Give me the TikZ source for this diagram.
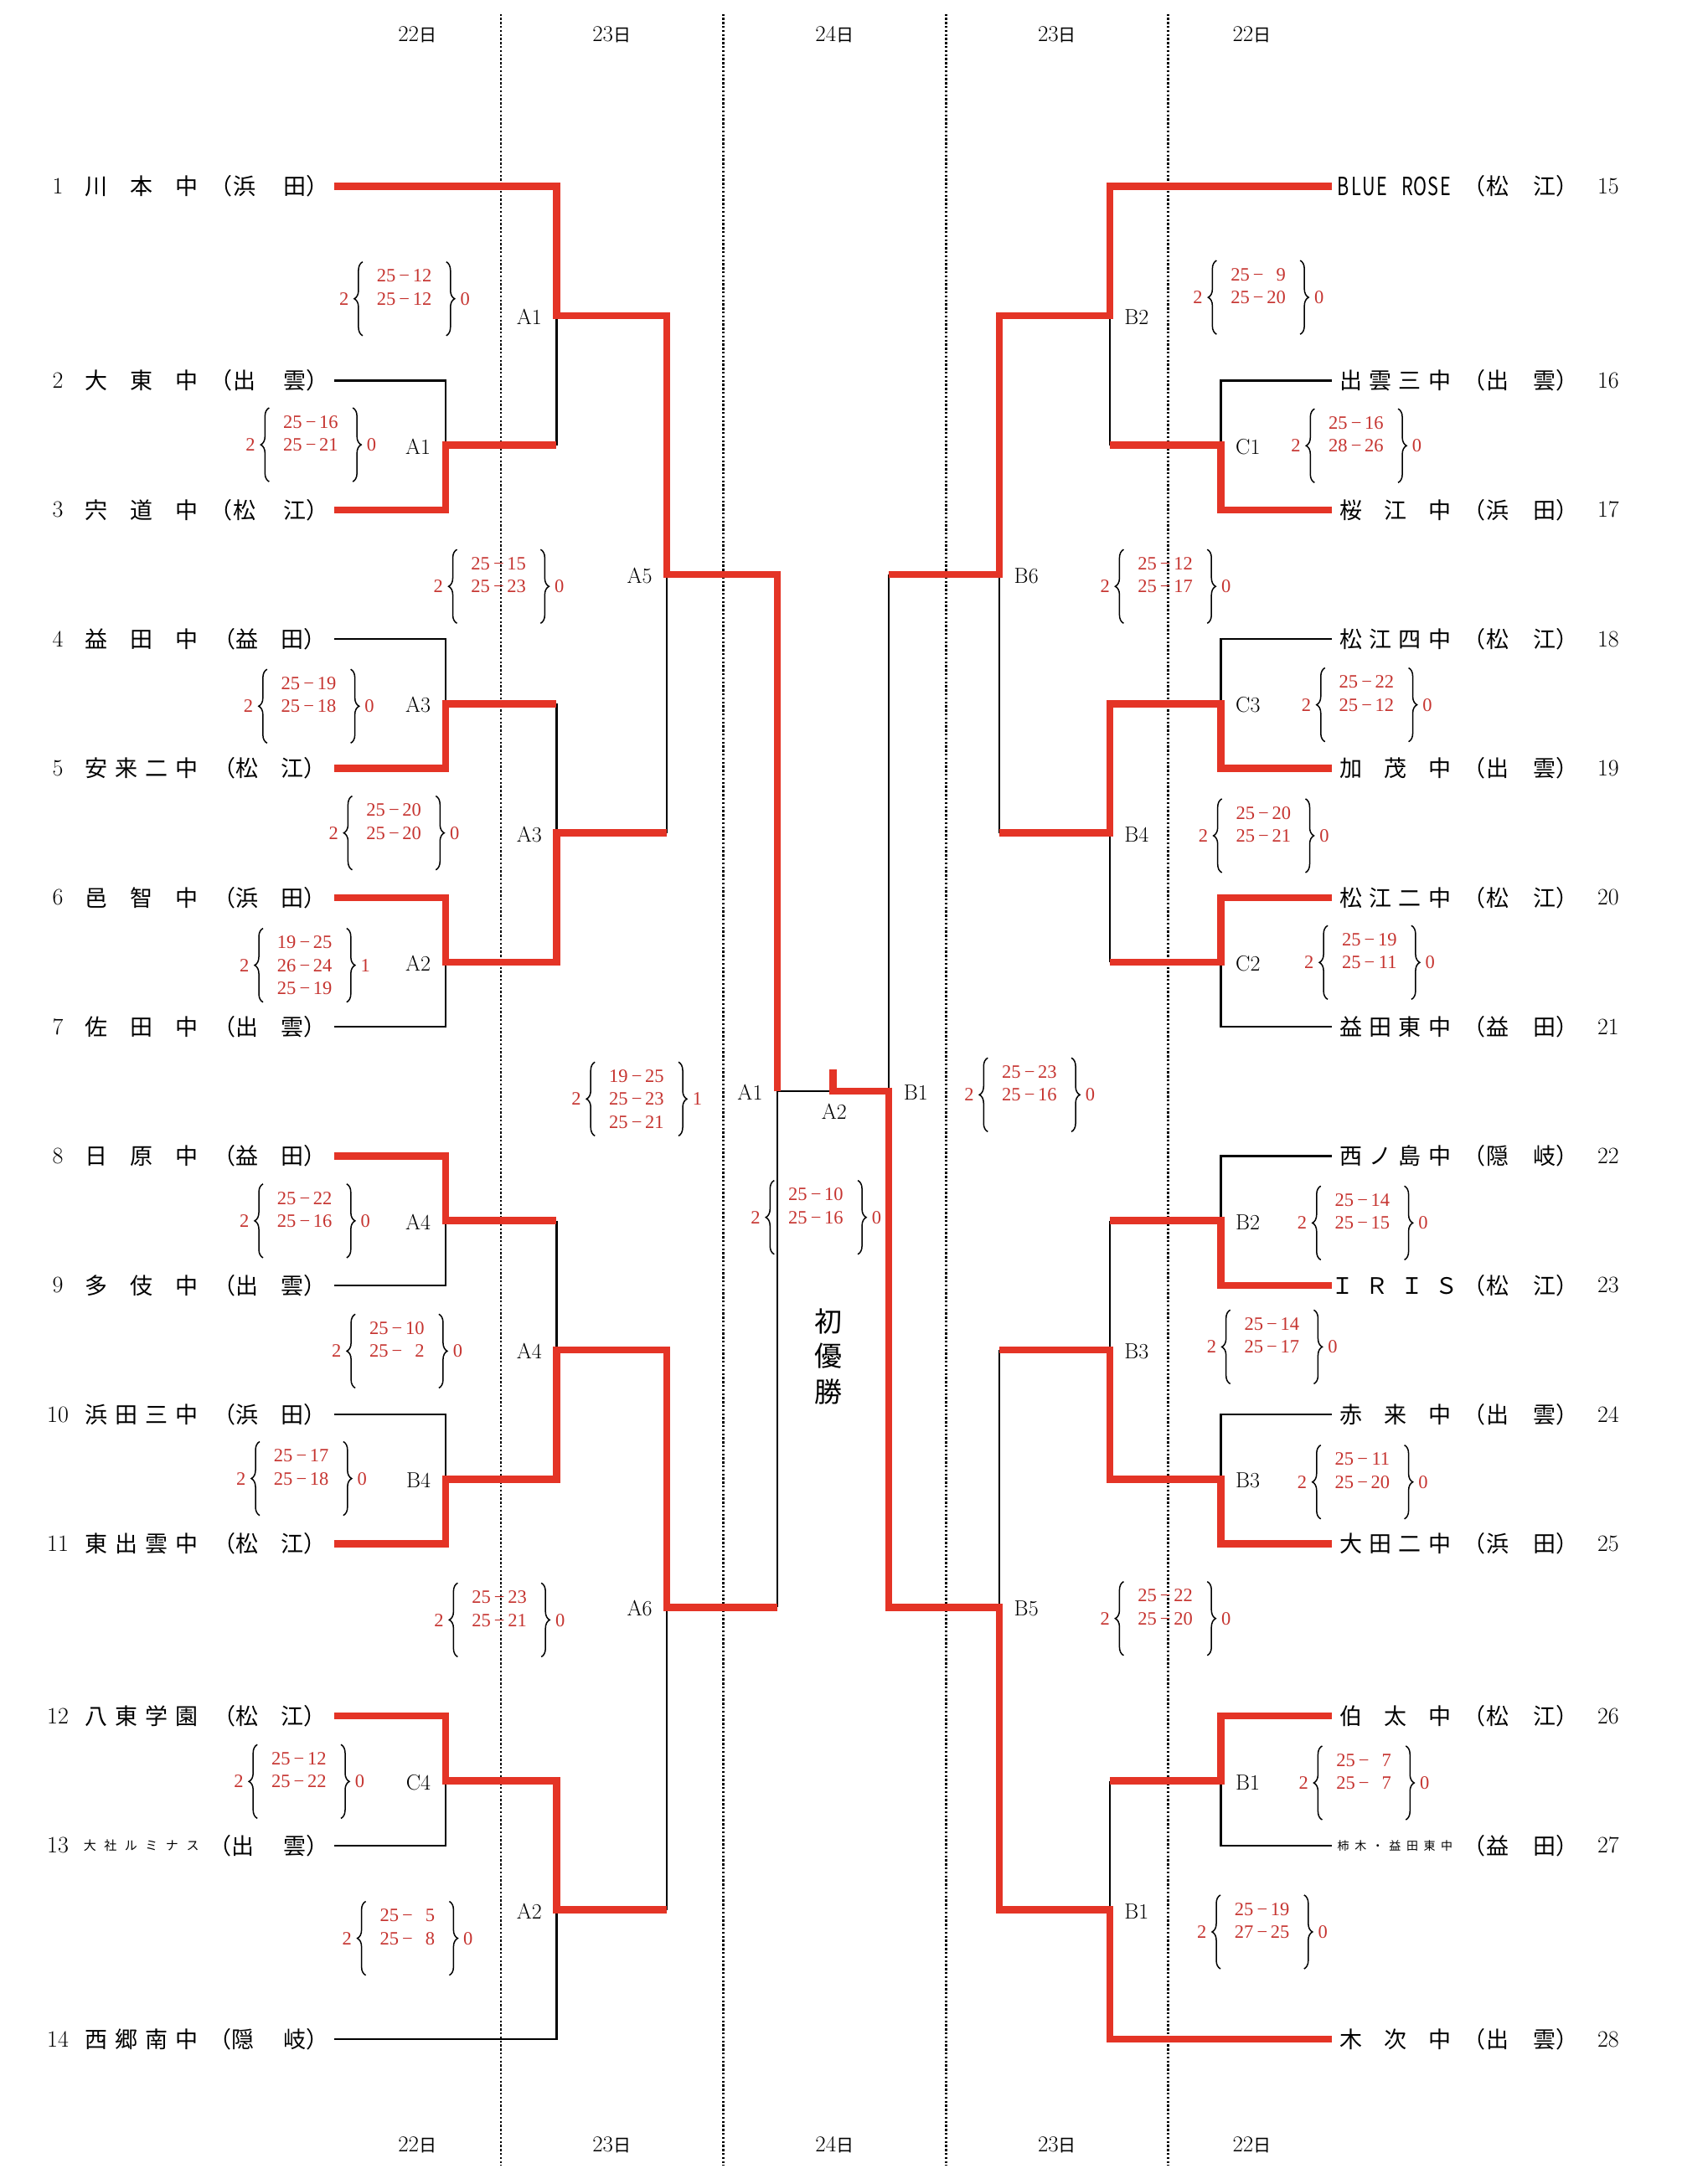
\documentclass[tikz,border=0pt]{standalone}
\usepackage{fontspec}
\newfontfamily\jp{Noto Sans CJK JP}
\newfontfamily\scf{Liberation Serif}
\usetikzlibrary{decorations.pathreplacing}
\definecolor{bred}{RGB}{228,52,38}
\definecolor{sred}{RGB}{198,52,48}
\newcommand\srow[2]{\makebox[22pt][r]{#1}\hspace{4pt}\makebox[13pt]{−}\hspace{4pt}\makebox[22pt][r]{#2}}
\newcommand\dayt[1]{#1{\jp\fontsize{21}{21}\selectfont 日}}
\newcommand\lteam[4]{%
  \node[numlab] (n#1) at (41.5,#2) {#1};
  \foreach \nm [count=\ii] in {#4}
    \node[namech] (t#1c\ii) at ({69.2+(\ii-1)*64.7/(#3-1)},#2) {\nm};}
\newcommand\rteam[4]{%
  \node[numlab] (n#1) at (1154.3,#2) {#1};
  \foreach \nm [count=\ii] in {#4}
    \node[namech] (t#1c\ii) at ({969.5+(\ii-1)*63.7/(#3-1)},#2) {\nm};}
\newcommand\citypair[6]{%
  \node[namech, anchor=east] (p#1a) at ({#3-8.12},#2) {（};
  \node[namech] (p#1b) at (#3,#2) {#5};
  \node[namech] (p#1c) at (#4,#2) {#6};
  \node[namech, anchor=west] (p#1d) at ({#4+8.12},#2) {）};}
\newcommand\scoreblk[6]{%
  \node[sct] (#1l) at ({#2-43.4},#3) {#4};
  \node[sct] (#1r) at ({#2+43.5},#3) {#5};
  \draw[brc] ({#2-30},{#3+26.5}) -- ({#2-30},{#3-26.5});
  \draw[brc] ({#2+30},{#3-26.5}) -- ({#2+30},{#3+26.5});
  \foreach \sa/\sb [count=\kk] in {#6}
    \node[sct] (#1s\kk) at (#2,{#3+(\kk-2)*16.5}) {\srow{\sa}{\sb}};}
\newcommand\mlabL[3]{\path (#2) ++(-10.5,1) node[mlab, anchor=east] (#1) {#3};}
\newcommand\mlabR[3]{\path (#2) ++(10.5,1) node[mlab, anchor=west] (#1) {#3};}

\begin{document}
\begin{tikzpicture}[x=1.6628pt, y=-1.6628pt,
  redl/.style={draw=bred, line width=8.5pt, line join=miter},
  blkl/.style={draw=black, line width=2.2pt},
  dotl/.style={draw=black, line width=2.6pt, dash pattern=on 2.4pt off 2.4pt},
  namech/.style={font=\jp\fontsize{27}{27}\selectfont, inner sep=0pt, text height=22.4pt, text depth=1.9pt},
  smallch/.style={font=\jp\fontsize{15}{15}\selectfont, inner sep=0pt, text height=12.4pt, text depth=1pt},
  tinych/.style={font=\jp\fontsize{14}{14}\selectfont, inner sep=0pt, text height=11.6pt, text depth=1pt},
  latch/.style={font=\jp\fontsize{30}{30}\selectfont, inner sep=0pt, text height=22pt, text depth=0pt},
  numlab/.style={font=\fontsize{28}{28}\selectfont, inner sep=0pt, text height=18pt, text depth=0pt},
  mlab/.style={font=\fontsize{26}{26}\selectfont, inner sep=0pt, text height=17.8pt, text depth=0pt},
  sct/.style={font=\scf\fontsize{22.5}{22.5}\selectfont, text=sred, inner sep=0pt, text height=15.2pt, text depth=0pt},
  brc/.style={draw=black, line width=1.5pt, decorate, decoration={brace, amplitude=10pt}},
  daylab/.style={font=\fontsize{27}{27}\selectfont, inner sep=0pt},
  champ/.style={font=\jp\fontsize{33}{33}\selectfont, inner sep=0pt}
]
\fill[white] (0,0) rectangle (1207,1568);
\useasboundingbox (0,0) rectangle (1207,1568);

% dotted day separators
\foreach \dx [count=\di] in {359.5,519,679,838.5}{
  \coordinate (dtop\di) at (\dx,10);
  \coordinate (dbot\di) at (\dx,1555);
  \draw[dotl] (dtop\di) -- (dbot\di);
}

% day labels
\node[daylab] (dl1) at (299.5,25) {\dayt{22}};
\node[daylab] (dl2) at (439,25) {\dayt{23}};
\node[daylab] (dl3) at (599,25) {\dayt{24}};
\node[daylab] (dl4) at (758.7,25) {\dayt{23}};
\node[daylab] (dl5) at (898.5,25) {\dayt{22}};
\node[daylab] (db1) at (299.5,1540) {\dayt{22}};
\node[daylab] (db2) at (439,1540) {\dayt{23}};
\node[daylab] (db3) at (599,1540) {\dayt{24}};
\node[daylab] (db4) at (758.7,1540) {\dayt{23}};
\node[daylab] (db5) at (898.5,1540) {\dayt{22}};

% team line ends
\foreach \yy [count=\tt] in {133.9,273.2,366,458.8,551.6,644.4,737.2,830,922.8,1015.6,1108.4,1231.9,1325,1464}{
  \coordinate (a\tt) at (240,\yy);
}
\foreach \yy [count=\tt from 15] in {133.9,273.2,366,458.8,551.6,644.4,737.2,830,922.8,1015.6,1108.4,1231.9,1325,1464}{
  \coordinate (b\tt) at (956,\yy);
}

% match points
\coordinate (L1a) at (319.7,319.6);
\coordinate (L1b) at (319.7,505.2);
\coordinate (L1c) at (319.7,690.8);
\coordinate (L1d) at (319.7,876.4);
\coordinate (L1e) at (319.7,1062);
\coordinate (L1f) at (319.7,1278.5);
\coordinate (L2a) at (399.5,226.8);
\coordinate (L2b) at (399.5,598);
\coordinate (L2c) at (399.5,969.2);
\coordinate (L2d) at (399.5,1371.2);
\coordinate (L3a) at (478.7,412.4);
\coordinate (L3b) at (478.7,1154);
\coordinate (L4) at (558,783.3);
\coordinate (F) at (598,783.3);
\coordinate (Fs) at (598,768);
\coordinate (R4) at (638,783.3);
\coordinate (R3a) at (717.3,412.4);
\coordinate (R3b) at (717.3,1154);
\coordinate (R2a) at (796.5,226.8);
\coordinate (R2b) at (796.5,598);
\coordinate (R2c) at (796.5,969.2);
\coordinate (R2d) at (796.5,1371.2);
\coordinate (R1a) at (876.3,319.6);
\coordinate (R1b) at (876.3,505.2);
\coordinate (R1c) at (876.3,690.8);
\coordinate (R1d) at (876.3,876.4);
\coordinate (R1e) at (876.3,1062);
\coordinate (R1f) at (876.3,1278.5);

% losing (black) lines
\draw[blkl] (a2) -| (L1a);
\draw[blkl] (a4) -| (L1b);
\draw[blkl] (a7) -| (L1c);
\draw[blkl] (a9) -| (L1d);
\draw[blkl] (a10) -| (L1e);
\draw[blkl] (a13) -| (L1f);
\draw[blkl] (a14) -| (L2d);
\draw[blkl] (L1a -| L2a) -- (L2a);
\draw[blkl] (L1b -| L2b) -- (L2b);
\draw[blkl] (L1d -| L2c) -- (L2c);
\draw[blkl] (L2b -| L3a) -- (L3a);
\draw[blkl] (L2d -| L3b) -- (L3b);
\draw[blkl] (L3b -| L4) -- (L4);
\draw[blkl] (L4) -- (F);
\draw[blkl] (b16) -| (R1a);
\draw[blkl] (b18) -| (R1b);
\draw[blkl] (b21) -| (R1c);
\draw[blkl] (b22) -| (R1d);
\draw[blkl] (b24) -| (R1e);
\draw[blkl] (b27) -| (R1f);
\draw[blkl] (R1a -| R2a) -- (R2a);
\draw[blkl] (R1c -| R2b) -- (R2b);
\draw[blkl] (R1d -| R2c) -- (R2c);
\draw[blkl] (R1f -| R2d) -- (R2d);
\draw[blkl] (R2b -| R3a) -- (R3a);
\draw[blkl] (R2c -| R3b) -- (R3b);
\draw[blkl] (R3a -| R4) -- (R4);

% winning (red) runs
\draw[redl] (a1) -| (L2a) -| (L3a) -| (L4);
\draw[redl] (a3) -| (L1a) -- (L1a -| L2a);
\draw[redl] (a5) -| (L1b) -- (L1b -| L2b);
\draw[redl] (a6) -| (L1c) -| (L2b) -- (L2b -| L3a);
\draw[redl] (a8) -| (L1d) -- (L1d -| L2c);
\draw[redl] (a11) -| (L1e) -| (L2c) -| (L3b) -- (L3b -| L4);
\draw[redl] (a12) -| (L1f) -| (L2d) -- (L2d -| L3b);
\draw[redl] (b15) -| (R2a) -| (R3a) -- (R3a -| R4);
\draw[redl] (b17) -| (R1a) -- (R1a -| R2a);
\draw[redl] (b19) -| (R1b) -| (R2b) -- (R2b -| R3a);
\draw[redl] (b20) -| (R1c) -- (R1c -| R2b);
\draw[redl] (b23) -| (R1d) -- (R1d -| R2c);
\draw[redl] (b25) -| (R1e) -| (R2c) -- (R2c -| R3b);
\draw[redl] (b26) -| (R1f) -- (R1f -| R2d);
\draw[redl] (b28) -| (R2d) -| (R3b) -| (R4) -- (F) -- (Fs);

% match labels
\mlabL{mA1a}{L1a}{A1}
\mlabL{mA3a}{L1b}{A3}
\mlabL{mA2a}{L1c}{A2}
\mlabL{mA4a}{L1d}{A4}
\mlabL{mB4a}{L1e}{B4}
\mlabL{mC4a}{L1f}{C4}
\mlabL{mA1b}{L2a}{A1}
\mlabL{mA3b}{L2b}{A3}
\mlabL{mA4b}{L2c}{A4}
\mlabL{mA2b}{L2d}{A2}
\mlabL{mA5}{L3a}{A5}
\mlabL{mA6}{L3b}{A6}
\mlabL{mA1c}{L4}{A1}
\node[mlab] (mA2c) at (598.7,798.4) {A2};
\mlabR{mB1c}{R4}{B1}
\mlabR{mB6}{R3a}{B6}
\mlabR{mB5}{R3b}{B5}
\mlabR{mB2b}{R2a}{B2}
\mlabR{mB4b}{R2b}{B4}
\mlabR{mB3b}{R2c}{B3}
\mlabR{mB1b}{R2d}{B1}
\mlabR{mC1}{R1a}{C1}
\mlabR{mC3}{R1b}{C3}
\mlabR{mC2}{R1c}{C2}
\mlabR{mB2a}{R1d}{B2}
\mlabR{mB3a}{R1e}{B3}
\mlabR{mB1a}{R1f}{B1}

% champion text
\node[champ] (ch1) at (594.4,948.7) {初};
\node[champ] (ch2) at (594.4,973.4) {優};
\node[champ] (ch3) at (594.4,999) {勝};

% left teams
\lteam{1}{133.9}{3}{川,本,中}\citypair{1}{133.9}{175.3}{211.7}{浜}{田}
\lteam{2}{273.2}{3}{大,東,中}\citypair{2}{273.2}{175.3}{211.7}{出}{雲}
\lteam{3}{366}{3}{宍,道,中}\citypair{3}{366}{175.3}{211.7}{松}{江}
\lteam{4}{458.8}{3}{益,田,中}\citypair{4}{458.8}{177.4}{209.9}{益}{田}
\lteam{5}{551.6}{4}{安,来,二,中}\citypair{5}{551.6}{177.4}{209.9}{松}{江}
\lteam{6}{644.4}{3}{邑,智,中}\citypair{6}{644.4}{177.4}{209.9}{浜}{田}
\lteam{7}{737.2}{3}{佐,田,中}\citypair{7}{737.2}{177.4}{209.9}{出}{雲}
\lteam{8}{830}{3}{日,原,中}\citypair{8}{830}{177.4}{209.9}{益}{田}
\lteam{9}{922.8}{3}{多,伎,中}\citypair{9}{922.8}{177.4}{209.9}{出}{雲}
\lteam{10}{1015.6}{4}{浜,田,三,中}\citypair{10}{1015.6}{177.4}{209.9}{浜}{田}
\lteam{11}{1108.4}{4}{東,出,雲,中}\citypair{11}{1108.4}{177.4}{209.9}{松}{江}
\lteam{12}{1231.9}{4}{八,東,学,園}\citypair{12}{1231.9}{177.4}{209.9}{松}{江}
\node[numlab] (n13) at (41.5,1325) {13};
\foreach \nm [count=\ii] in {大,社,ル,ミ,ナ,ス}
  \node[smallch] (t13c\ii) at ({64.5+(\ii-1)*14.76},1325) {\nm};
\citypair{13}{1325}{174.4}{211.6}{出}{雲}
\lteam{14}{1464}{4}{西,郷,南,中}\citypair{14}{1464}{174.4}{211.6}{隠}{岐}

% right teams
\node[numlab] (n15) at (1154.3,133.9) {15};
\foreach \nm/\kk in {B/0,L/1,U/2,E/3,R/5,O/6,S/7,E/8}
  \node[latch] (t15c\kk) at ({964.4+\kk*9.16},133.9) {\scalebox{0.72}[1]{\nm}};
\citypair{15}{133.9}{1074.7}{1108.7}{松}{江}
\rteam{16}{273.2}{4}{出,雲,三,中}\citypair{16}{273.2}{1074.7}{1108.7}{出}{雲}
\rteam{17}{366}{3}{桜,江,中}\citypair{17}{366}{1074.7}{1108.7}{浜}{田}
\rteam{18}{458.8}{4}{松,江,四,中}\citypair{18}{458.8}{1074.7}{1108.7}{松}{江}
\rteam{19}{551.6}{3}{加,茂,中}\citypair{19}{551.6}{1074.7}{1108.7}{出}{雲}
\rteam{20}{644.4}{4}{松,江,二,中}\citypair{20}{644.4}{1074.7}{1108.7}{松}{江}
\rteam{21}{737.2}{4}{益,田,東,中}\citypair{21}{737.2}{1074.7}{1108.7}{益}{田}
\rteam{22}{830}{4}{西,ノ,島,中}\citypair{22}{830}{1074.7}{1108.7}{隠}{岐}
\node[numlab] (n23) at (1154.3,922.8) {23};
\foreach \nm [count=\ii] in {Ｉ,Ｒ,Ｉ,Ｓ}
  \node[namech] (t23c\ii) at ({963.8+(\ii-1)*24.87},922.8) {\nm};
\citypair{23}{922.8}{1074.7}{1108.7}{松}{江}
\rteam{24}{1015.6}{3}{赤,来,中}\citypair{24}{1015.6}{1074.7}{1108.7}{出}{雲}
\rteam{25}{1108.4}{4}{大,田,二,中}\citypair{25}{1108.4}{1074.7}{1108.7}{浜}{田}
\rteam{26}{1231.9}{3}{伯,太,中}\citypair{26}{1231.9}{1074.7}{1108.7}{松}{江}
\node[numlab] (n27) at (1154.3,1325) {27};
\foreach \nm [count=\ii] in {柿,木,・,益,田,東,中}
  \node[tinych] (t27c\ii) at ({964.2+(\ii-1)*12.37},1325) {\nm};
\citypair{27}{1325}{1074.7}{1108.7}{益}{田}
\rteam{28}{1464}{3}{木,次,中}\citypair{28}{1464}{1074.7}{1108.7}{出}{雲}

% scores
\scoreblk{s1}{290.3}{214.5}{2}{0}{25/12,25/12}
\scoreblk{s2}{223.2}{319.3}{2}{0}{25/16,25/21}
\scoreblk{s3}{358}{421}{2}{0}{25/15,25/23}
\scoreblk{s4}{221.7}{507}{2}{0}{25/19,25/18}
\scoreblk{s5}{282.8}{598}{2}{0}{25/20,25/20}
\scoreblk{s6}{218.8}{693}{2}{1}{19/25,26/24,25/19}
\scoreblk{s7}{457}{789}{2}{1}{19/25,25/23,25/21}
\scoreblk{s8}{218.8}{876.5}{2}{0}{25/22,25/16}
\scoreblk{s9}{285}{970}{2}{0}{25/10,25/2}
\scoreblk{s10}{216.4}{1061.5}{2}{0}{25/17,25/18}
\scoreblk{s11}{358.5}{1163}{2}{0}{25/23,25/21}
\scoreblk{s12}{214.7}{1279}{2}{0}{25/12,25/22}
\scoreblk{s13}{292.5}{1391.6}{2}{0}{25/5,25/8}
\scoreblk{s14}{585.7}{874}{2}{0}{25/10,25/16}
\scoreblk{s15}{739}{786}{2}{0}{25/23,25/16}
\scoreblk{s16}{903.2}{213.5}{2}{0}{25/9,25/20}
\scoreblk{s17}{973.5}{320}{2}{0}{25/16,28/26}
\scoreblk{s18}{836.5}{421}{2}{0}{25/12,25/17}
\scoreblk{s19}{981}{506}{2}{0}{25/22,25/12}
\scoreblk{s20}{907}{600}{2}{0}{25/20,25/21}
\scoreblk{s21}{983}{691}{2}{0}{25/19,25/11}
\scoreblk{s22}{978}{878}{2}{0}{25/14,25/15}
\scoreblk{s23}{913}{967}{2}{0}{25/14,25/17}
\scoreblk{s24}{978}{1064}{2}{0}{25/11,25/20}
\scoreblk{s25}{836.5}{1162}{2}{0}{25/22,25/20}
\scoreblk{s26}{979}{1280}{2}{0}{25/7,25/7}
\scoreblk{s27}{906}{1387}{2}{0}{25/19,27/25}
\end{tikzpicture}
\end{document}
